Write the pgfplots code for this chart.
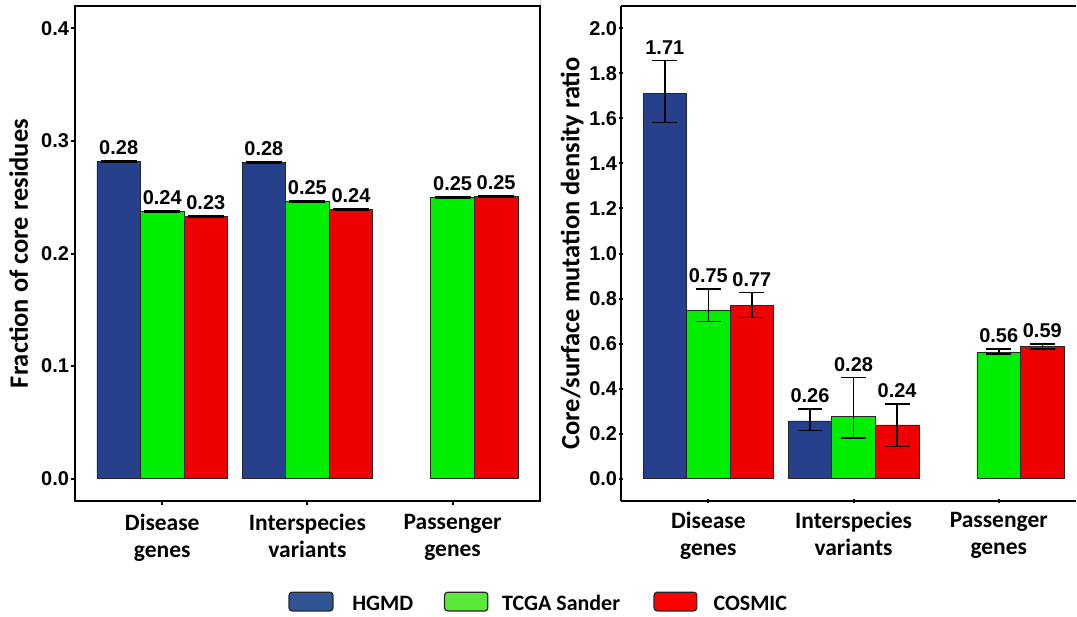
\documentclass[border=0pt]{standalone}
\usepackage{fontspec}
\usepackage{pgfplots}
\usepackage{pgfplotstable}
\pgfplotsset{compat=1.18}
\setmainfont{Carlito}
\newfontfamily\numfamily{Liberation Sans}

\newcommand\tickfont{\numfamily\bfseries\fontsize{20bp}{22bp}\selectfont}
\newcommand\catfont{\bfseries\fontsize{23.5bp}{27bp}\selectfont}
\newcommand\titlefont{\bfseries\fontsize{26.5bp}{30bp}\selectfont}
\newcommand\legfont{\bfseries\fontsize{22bp}{26bp}\selectfont}

\definecolor{hgmd}{HTML}{27408B}
\definecolor{tcga}{HTML}{00EE00}
\definecolor{cosmic}{HTML}{EE0000}
\definecolor{hgmdkey}{HTML}{2F5597}
\definecolor{tcgakey}{HTML}{5BE83A}
\definecolor{cosmickey}{HTML}{FF0000}
\definecolor{barline}{HTML}{262626}

% Fraction of core residues (x = group position with dodge offset)
\pgfplotstableread{
x   y     ep     em
0.7 0.282 0.0006 0.0006
1.7 0.281 0.0006 0.0006
}\corehgmd
\pgfplotstableread{
x   y     ep     em
1.0 0.237 0.0006 0.0006
2.0 0.246 0.0006 0.0006
3.0 0.250 0.0006 0.0006
}\coretcga
\pgfplotstableread{
x   y     ep     em
1.3 0.233 0.0006 0.0006
2.3 0.239 0.0006 0.0006
3.3 0.251 0.0006 0.0006
}\corecosmic

% Core/surface mutation density ratio with asymmetric intervals
\pgfplotstableread{
x   y     ep    em
0.7 1.713 0.144 0.131
1.7 0.256 0.053 0.043
}\ratiohgmd
\pgfplotstableread{
x   y     ep    em
1.0 0.749 0.092 0.051
2.0 0.276 0.173 0.097
3.0 0.561 0.014 0.008
}\ratiotcga
\pgfplotstableread{
x   y     ep    em
1.3 0.769 0.057 0.054
2.3 0.238 0.093 0.095
3.3 0.586 0.013 0.011
}\ratiocosmic

\pgfplotsset{
  /pgf/number format/assume math mode=true,
  panel/.style={
    scale only axis, height=495.5bp,
    xmin=0.4,
    clip=false,
    axis line style={line width=2bp, black},
    tick align=outside, major tick length=4bp,
    tick style={line width=2bp, black},
    xtick pos=bottom, ytick pos=left,
    xtick={1,2,3},
    xticklabels={{Disease\\genes},{Interspecies\\variants},{Passenger\\genes}},
    xticklabel style={font=\catfont, align=center, inner sep=0pt, yshift=-9bp},
    yticklabel style={font=\tickfont, inner sep=0pt, xshift=-2bp,
      /pgf/number format/fixed, /pgf/number format/fixed zerofill,
      /pgf/number format/precision=1},
    ylabel style={font=\titlefont, rotate=0, anchor=base},
    ybar, bar width=0.3, bar shift=0pt,
    error bars/y dir=both, error bars/y explicit,
    error bars/error mark=|,
    error bars/error bar style={line width=1.6bp, black},
  },
  bars/.style={draw=barline, line width=0.8bp, fill=#1},
  vals/.style={draw=none, fill=none,
    point meta=explicit,
    nodes near coords={\pgfmathprintnumber[fixed, fixed zerofill, precision=2]{\pgfplotspointmeta}},
    every node near coord/.append style={anchor=south, inner sep=0pt, yshift=6bp, font=\tickfont, black}},
}

\begin{document}
\begin{tikzpicture}[x=1bp, y=1bp]
% page area
\path (0,0) rectangle (1077,617);

% light panel separator
\draw[black!18, line width=1bp] (541,115) -- (541,617);

% left panel
\begin{axis}[panel, at={(75.2bp,116bp)}, anchor=south west,
  width=465bp, xmax=3.6,
  ymin=-0.02, ymax=0.42, ytick={0,0.1,0.2,0.3,0.4},
  ylabel={Fraction of core residues},
  ylabel style={at={(axis description cs:-0.1015,0.5)}},
  error bars/error mark options={line width=1.6bp, black, mark size=18bp},
]
\addplot[bars=hgmd] table[x=x, y=y, y error plus=ep, y error minus=em] {\corehgmd};
\addplot[bars=tcga] table[x=x, y=y, y error plus=ep, y error minus=em] {\coretcga};
\addplot[bars=cosmic] table[x=x, y=y, y error plus=ep, y error minus=em] {\corecosmic};
\addplot[vals] table[x=x, y expr=\thisrow{y}+\thisrow{ep}, meta=y] {\corehgmd};
\addplot[vals] table[x=x, y expr=\thisrow{y}+\thisrow{ep}, meta=y] {\coretcga};
\addplot[vals] table[x=x, y expr=\thisrow{y}+\thisrow{ep}, meta=y] {\corecosmic};
\end{axis}

% right panel: its right edge runs off the page, so only left, bottom and top lines
\begin{axis}[panel, at={(621.8bp,116bp)}, anchor=south west,
  width=455.2bp, xmax=3.532,
  axis lines=left, axis line style={line width=2bp, black, -},
  ymin=-0.1, ymax=2.1, ytick={0,0.2,0.4,0.6,0.8,1.0,1.2,1.4,1.6,1.8,2.0},
  ylabel={Core/surface mutation density ratio},
  ylabel style={at={(axis description cs:-0.0918,0.5)}},
  error bars/error mark options={line width=1.6bp, black, mark size=12.5bp},
  after end axis/.code={\draw[line width=2bp, black] (rel axis cs:0,1) -- (rel axis cs:1,1);},
]
\addplot[bars=hgmd] table[x=x, y=y, y error plus=ep, y error minus=em] {\ratiohgmd};
\addplot[bars=tcga] table[x=x, y=y, y error plus=ep, y error minus=em] {\ratiotcga};
\addplot[bars=cosmic] table[x=x, y=y, y error plus=ep, y error minus=em] {\ratiocosmic};
\addplot[vals] table[x=x, y expr=\thisrow{y}+\thisrow{ep}, meta=y] {\ratiohgmd};
\addplot[vals] table[x=x, y expr=\thisrow{y}+\thisrow{ep}, meta=y] {\ratiotcga};
\addplot[vals] table[x=x, y expr=\thisrow{y}+\thisrow{ep}, meta=y] {\ratiocosmic};
\end{axis}

% shared legend
\begin{scope}[every node/.style={font=\legfont, inner sep=0pt, anchor=base west}]
\draw[fill=hgmdkey, draw=black!85, line width=1.2bp, rounded corners=3bp] (289.3,6) rectangle (333.3,24.7);
\node at (352.5,6.3) {HGMD};
\draw[fill=tcgakey, draw=black!85, line width=1.2bp, rounded corners=3bp] (445,6) rectangle (488.3,24.7);
\node at (502.5,6.3) {TCGA Sander};
\draw[fill=cosmickey, draw=black!85, line width=1.2bp, rounded corners=3bp] (654.7,6) rectangle (697.5,24.7);
\node at (714,6.3) {COSMIC};
\end{scope}
\end{tikzpicture}
\end{document}
